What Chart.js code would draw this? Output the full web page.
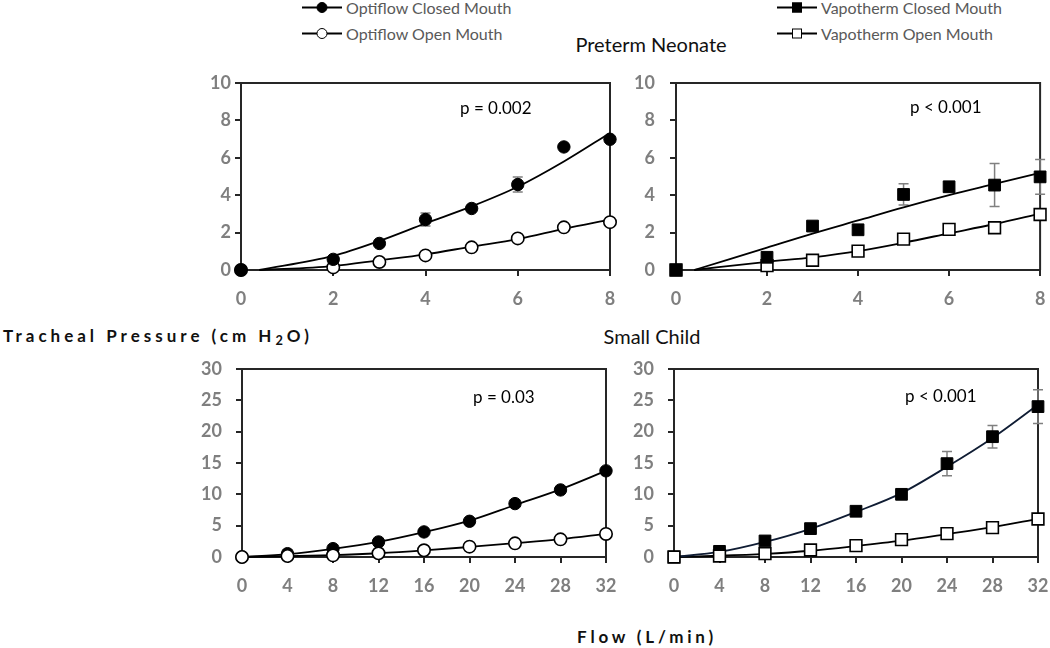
<!DOCTYPE html>
<html><head><meta charset="utf-8">
<script src="https://cdn.jsdelivr.net/npm/chart.js@4/dist/chart.umd.min.js"></script>
<style>
body{margin:0;width:1050px;height:648px;background:#fff;position:relative;overflow:hidden;font-family:Lato,"Open Sans",sans-serif}
canvas{position:absolute}
.c{position:absolute;white-space:nowrap;transform:translate(-50%,-50%)}
.lg{position:absolute;display:flex;align-items:center;transform:translateY(-50%);white-space:nowrap}
.ln{position:relative;width:40px;height:2px;background:#000}
.mk{position:absolute;left:50%;top:50%;transform:translate(-50%,-50%);box-sizing:border-box;border:1.5px solid #000}
.lt{margin-left:4px;color:#595959;font-size:16px}
</style></head><body>
<canvas id="tl" width="440" height="250" style="left:181px;top:70px"></canvas>
<canvas id="tr" width="444" height="250" style="left:606px;top:70px"></canvas>
<canvas id="bl" width="440" height="250" style="left:181px;top:356px"></canvas>
<canvas id="br" width="444" height="250" style="left:606px;top:356px"></canvas>
<div id="legend"></div>
<div id="t1" class="c" style="left:651px;top:44px;font-size:20px;color:#111"></div>
<div id="t2" class="c" style="left:652px;top:336px;font-size:20px;color:#111"></div>
<div class="c" style="left:158px;top:335px;font-size:17px;font-weight:bold;letter-spacing:4px;color:#111">Tracheal Pressure (cm H<span style="font-size:0.75em;position:relative;top:0.25em">2</span>O)</div>
<div class="c" style="left:647px;top:636px;font-size:17px;font-weight:bold;letter-spacing:3.8px;color:#111">Flow (L/min)</div>
<script>
// ---------- data ----------
const seriesNames = ['Optiflow Closed Mouth','Optiflow Open Mouth','Vapotherm Closed Mouth','Vapotherm Open Mouth'];
const panelTitles = ['Preterm Neonate','Small Child'];
const pLabels = ['p = 0.002','p < 0.001','p = 0.03','p < 0.001'];

const flowNeonate = [0,2,3,4,5,6,7,8];
const optiClosedNeo = [0,0.57,1.42,2.7,3.29,4.57,6.58,6.99];
const optiClosedNeoErr = [0,0.1,0.1,0.35,0.1,0.4,0.15,0.15];
const optiOpenNeo = [0,0.14,0.43,0.78,1.21,1.69,2.28,2.56];
const optiOpenNeoErr = [0,0.05,0.05,0.05,0.05,0.05,0.1,0.1];
const vapoClosedNeo = [0,0.68,2.35,2.15,4.04,4.45,4.54,4.98];
const vapoClosedNeoErr = [0,0.1,0.15,0.15,0.57,0.2,1.15,0.93];
const vapoOpenNeo = [0,0.23,0.52,1.01,1.65,2.17,2.26,2.97];
const vapoOpenNeoErr = [0,0.05,0.05,0.1,0.1,0.1,0.3,0.15];

const flowNeonateFit = [0.4,2,3,4,5,6,7,8];
const optiClosedNeoFit = [0,0.75,1.55,2.49,3.4,4.45,5.8,7.33];
const optiOpenNeoFit = [0,0.21,0.52,0.84,1.25,1.65,2.2,2.7];
const vapoClosedNeoFit = [0,1.2,1.95,2.65,3.35,4.0,4.6,5.2];
const vapoOpenNeoFit = [0,0.44,0.68,1.01,1.46,1.96,2.46,3.02];

const flowChild = [0,4,8,12,16,20,24,28,32];
const optiClosedChild = [0,0.53,1.33,2.4,4.0,5.7,8.52,10.7,13.75];
const optiClosedChildErr = [0,0.2,0.2,0.2,0.3,0.3,0.4,0.4,0.5];
const optiOpenChild = [0,0.16,0.27,0.59,1.07,1.65,2.18,2.82,3.68];
const optiOpenChildErr = [0,0.1,0.1,0.1,0.1,0.1,0.2,0.2,0.2];
const vapoClosedChild = [0,0.9,2.56,4.53,7.3,10.0,14.9,19.2,24.0];
const vapoClosedChildErr = [0,0.2,0.3,0.4,0.5,0.6,1.95,1.8,2.7];
const vapoOpenChild = [0,0.16,0.53,1.12,1.81,2.77,3.73,4.69,6.07];
const vapoOpenChildErr = [0,0.1,0.1,0.1,0.2,0.2,0.2,0.3,0.3];

const flowChildFit = [0,4,8,12,16,20,24,28,32];
const optiClosedChildFit = [0,0.45,1.3,2.4,3.95,5.8,8.3,10.8,13.75];
const optiOpenChildFit = [0,0.12,0.3,0.6,1.05,1.6,2.2,2.85,3.7];
const vapoClosedChildFit = [0,0.8,2.4,4.5,7.2,10.2,14.4,19.0,24.3];
const vapoOpenChildFit = [0,0.2,0.5,1.0,1.75,2.6,3.65,4.75,6.1];

const xTicksNeonate = [0,2,4,6,8];
const xTicksChild = [0,4,8,12,16,20,24,28,32];
const yTicksNeonate = [0,2,4,6,8,10];
const yTicksChild = [0,5,10,15,20,25,30];

document.getElementById('t1').textContent = panelTitles[0];
document.getElementById('t2').textContent = panelTitles[1];

// ---------- legend ----------
const legendDefs = [
  {name:seriesNames[0], left:302, top:7, shape:'circle', fill:'#000'},
  {name:seriesNames[1], left:302, top:33, shape:'circle', fill:'#fff'},
  {name:seriesNames[2], left:777, top:7, shape:'square', fill:'#000'},
  {name:seriesNames[3], left:777, top:33, shape:'square', fill:'#fff'}
];
const lg = document.getElementById('legend');
legendDefs.forEach(d=>{
  const el = document.createElement('div');
  el.className='lg'; el.style.left=d.left+'px'; el.style.top=d.top+'px';
  const sz = d.shape==='circle'?11:10;
  el.innerHTML = `<span class="ln"><span class="mk" style="width:${sz}px;height:${sz}px;background:${d.fill};border-radius:${d.shape==='circle'?'50%':'0'}"></span></span><span class="lt">${d.name}</span>`;
  lg.appendChild(el);
});

// ---------- charts ----------
const pts = (xs, ys) => xs.map((x,i)=>({x, y:ys[i]}));
const AX = '#262626';
const deco = {
  id:'deco',
  beforeDatasetsDraw(chart, args, o){
    const {ctx, chartArea:a, scales:{x,y}} = chart;
    ctx.save();
    ctx.strokeStyle=AX; ctx.lineWidth=2;
    ctx.beginPath(); ctx.moveTo(a.left,a.top); ctx.lineTo(a.right,a.top); ctx.lineTo(a.right,a.bottom); ctx.stroke();
    ctx.strokeStyle='#808080'; ctx.lineWidth=1.5;
    chart.data.datasets.forEach(ds=>{
      if(!ds.errors) return;
      ds.data.forEach((p,i)=>{
        const e = ds.errors[i]; if(!e) return;
        const px=x.getPixelForValue(p.x), y1=y.getPixelForValue(p.y+e), y2=y.getPixelForValue(p.y-e);
        ctx.beginPath();
        ctx.moveTo(px,y1); ctx.lineTo(px,y2);
        ctx.moveTo(px-5,y1); ctx.lineTo(px+5,y1);
        ctx.moveTo(px-5,y2); ctx.lineTo(px+5,y2);
        ctx.stroke();
      });
    });
    ctx.fillStyle='#000'; ctx.font='17px Lato'; ctx.textAlign='left'; ctx.textBaseline='middle';
    ctx.fillText(o.text, a.left+o.dx, a.top+o.dy);
    ctx.restore();
  }
};

function marker(data, errors, style, filled, label){
  return {label, data, errors, showLine:false, pointStyle:style,
    pointRadius: style==='rect'?8.3:6.2, pointHoverRadius: style==='rect'?8.3:6.2,
    pointBackgroundColor: filled?'#000':'#fff', pointBorderColor:'#000',
    pointBorderWidth: filled?1:1.6, clip:false};
}
function fit(data, color){
  return {data, showLine:true, pointRadius:0, borderColor:color||'#000', borderWidth:1.8,
    cubicInterpolationMode:'monotone', fill:false, clip:false};
}

function make(id, o){
  new Chart(document.getElementById(id), {
    type:'scatter',
    data:{datasets:o.datasets},
    options:{
      responsive:false, animation:false, events:[],
      layout:{padding:{top:13, right:o.padRight, left:0, bottom:0}},
      plugins:{legend:{display:false}, tooltip:{enabled:false}, deco:{text:o.p, dx:o.pdx, dy:o.pdy}},
      scales:{
        x:{type:'linear', min:0, max:o.xMax,
          afterBuildTicks:s=>{s.ticks=o.xTicks.map(v=>({value:v}));},
          afterFit:s=>{s.height=o.xH; s.paddingLeft=0; s.paddingRight=0;},
          border:{display:true,color:AX,width:2},
          grid:{drawOnChartArea:false, drawTicks:true, tickLength:6, color:AX, lineWidth:2},
          ticks:{color:'#7f7f7f', font:{family:'Lato', size:18, weight:'bold'}, padding:12, maxRotation:0, autoSkip:false}},
        y:{type:'linear', min:0, max:o.yMax,
          afterBuildTicks:s=>{s.ticks=o.yTicks.map(v=>({value:v}));},
          afterFit:s=>{s.width=o.yW; s.paddingTop=0; s.paddingBottom=0;},
          border:{display:true,color:AX,width:2},
          grid:{drawOnChartArea:false, drawTicks:true, tickLength:6, color:AX, lineWidth:2},
          ticks:{color:'#7f7f7f', font:{family:'Lato', size:18, weight:'bold'}, padding:o.yPad, autoSkip:false}}
      }
    },
    plugins:[deco]
  });
}

make('tl', {xMax:8, yMax:10, xTicks:xTicksNeonate, yTicks:yTicksNeonate, xH:50, yW:60, padRight:11, yPad:4,
  p:pLabels[0], pdx:219, pdy:26,
  datasets:[
    marker(pts(flowNeonate,optiClosedNeo), optiClosedNeoErr, 'circle', true, seriesNames[0]),
    marker(pts(flowNeonate,optiOpenNeo), optiOpenNeoErr, 'circle', false, seriesNames[1]),
    fit(pts(flowNeonateFit,optiClosedNeoFit)),
    fit(pts(flowNeonateFit,optiOpenNeoFit))
  ]});
make('tr', {xMax:8, yMax:10, xTicks:xTicksNeonate, yTicks:yTicksNeonate, xH:50, yW:70, padRight:7, yPad:15,
  p:pLabels[1], pdx:234, pdy:25,
  datasets:[
    marker(pts(flowNeonate,vapoClosedNeo), vapoClosedNeoErr, 'rect', true, seriesNames[2]),
    marker(pts(flowNeonate,vapoOpenNeo), vapoOpenNeoErr, 'rect', false, seriesNames[3]),
    fit(pts(flowNeonateFit,vapoClosedNeoFit)),
    fit(pts(flowNeonateFit,vapoOpenNeoFit))
  ]});
make('bl', {xMax:32, yMax:30, xTicks:xTicksChild, yTicks:yTicksChild, xH:49, yW:61, padRight:15, yPad:14,
  p:pLabels[2], pdx:231, pdy:29,
  datasets:[
    marker(pts(flowChild,optiOpenChild), optiOpenChildErr, 'circle', false, seriesNames[1]),
    marker(pts(flowChild,optiClosedChild), optiClosedChildErr, 'circle', true, seriesNames[0]),
    fit(pts(flowChildFit,optiClosedChildFit)),
    fit(pts(flowChildFit,optiOpenChildFit))
  ]});
make('br', {xMax:32, yMax:30, xTicks:xTicksChild, yTicks:yTicksChild, xH:49, yW:68, padRight:12, yPad:14,
  p:pLabels[3], pdx:231, pdy:28,
  datasets:[
    marker(pts(flowChild,vapoOpenChild), vapoOpenChildErr, 'rect', false, seriesNames[3]),
    marker(pts(flowChild,vapoClosedChild), vapoClosedChildErr, 'rect', true, seriesNames[2]),
    fit(pts(flowChildFit,vapoClosedChildFit), '#0f1c33'),
    fit(pts(flowChildFit,vapoOpenChildFit))
  ]});
</script>
</body></html>
